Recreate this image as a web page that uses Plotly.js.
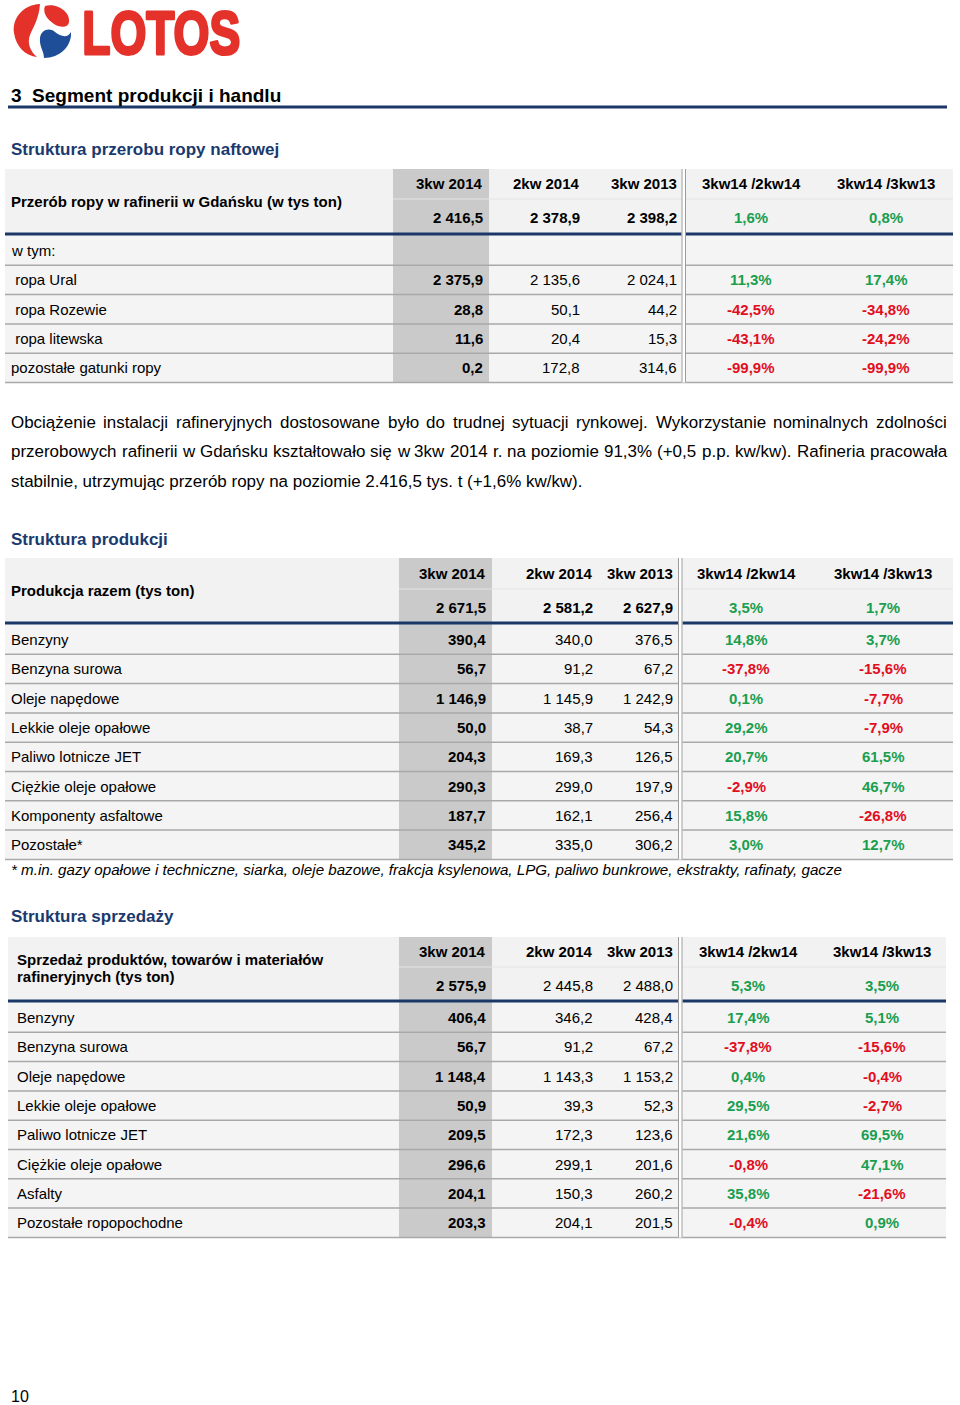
<!DOCTYPE html>
<html><head><meta charset="utf-8">
<script src="https://cdn.plot.ly/plotly-3.0.1.min.js"></script>
<style>html,body{margin:0;padding:0;background:#fff}</style>
</head><body><div id="chart" style="width:960px;height:1405px"></div>
<script>
// ---------------- DATA ----------------
const colHeaders = ['3kw 2014', '2kw 2014', '3kw 2013', '3kw14 /2kw14', '3kw14 /3kw13'];

// Table 1: Struktura przerobu ropy naftowej
const crudeTitle = 'Struktura przerobu ropy naftowej';
const crudeLabel = ['Przerób ropy w rafinerii w Gdańsku (w tys ton)'];
const crudeTotal = [2416.5, 2378.9, 2398.2, 1.6, 0.8];
const crudeRows = ['w tym:', '\u00a0ropa Ural', '\u00a0ropa Rozewie', '\u00a0ropa litewska', 'pozostałe gatunki ropy'];
const crudeQ3_2014 = [null, 2375.9, 28.8, 11.6, 0.2];
const crudeQ2_2014 = [null, 2135.6, 50.1, 20.4, 172.8];
const crudeQ3_2013 = [null, 2024.1, 44.2, 15.3, 314.6];
const crudeQoQ = [null, 11.3, -42.5, -43.1, -99.9];
const crudeYoY = [null, 17.4, -34.8, -24.2, -99.9];

// Table 2: Struktura produkcji
const prodTitle = 'Struktura produkcji';
const prodLabel = ['Produkcja razem (tys ton)'];
const prodTotal = [2671.5, 2581.2, 2627.9, 3.5, 1.7];
const prodRows = ['Benzyny', 'Benzyna surowa', 'Oleje napędowe', 'Lekkie oleje opałowe', 'Paliwo lotnicze JET', 'Ciężkie oleje opałowe', 'Komponenty asfaltowe', 'Pozostałe*'];
const prodQ3_2014 = [390.4, 56.7, 1146.9, 50.0, 204.3, 290.3, 187.7, 345.2];
const prodQ2_2014 = [340.0, 91.2, 1145.9, 38.7, 169.3, 299.0, 162.1, 335.0];
const prodQ3_2013 = [376.5, 67.2, 1242.9, 54.3, 126.5, 197.9, 256.4, 306.2];
const prodQoQ = [14.8, -37.8, 0.1, 29.2, 20.7, -2.9, 15.8, 3.0];
const prodYoY = [3.7, -15.6, -7.7, -7.9, 61.5, 46.7, -26.8, 12.7];
const prodFootnote = '* m.in. gazy opałowe i techniczne, siarka, oleje bazowe, frakcja ksylenowa, LPG, paliwo bunkrowe, ekstrakty, rafinaty, gacze';

// Table 3: Struktura sprzedaży
const salesTitle = 'Struktura sprzedaży';
const salesLabel = ['Sprzedaż produktów, towarów i materiałów', 'rafineryjnych (tys ton)'];
const salesTotal = [2575.9, 2445.8, 2488.0, 5.3, 3.5];
const salesRows = ['Benzyny', 'Benzyna surowa', 'Oleje napędowe', 'Lekkie oleje opałowe', 'Paliwo lotnicze JET', 'Ciężkie oleje opałowe', 'Asfalty', 'Pozostałe ropopochodne'];
const salesQ3_2014 = [406.4, 56.7, 1148.4, 50.9, 209.5, 296.6, 204.1, 203.3];
const salesQ2_2014 = [346.2, 91.2, 1143.3, 39.3, 172.3, 299.1, 150.3, 204.1];
const salesQ3_2013 = [428.4, 67.2, 1153.2, 52.3, 123.6, 201.6, 260.2, 201.5];
const salesQoQ = [17.4, -37.8, 0.4, 29.5, 21.6, -0.8, 35.8, -0.4];
const salesYoY = [5.1, -15.6, -0.4, -2.7, 69.5, 47.1, -21.6, 0.9];

const pageHeading = '3\u00a0\u00a0Segment produkcji i handlu';
const logoText = 'LOTOS';
const paragraphLines = [
  'Obciążenie instalacji rafineryjnych dostosowane było do trudnej sytuacji rynkowej. Wykorzystanie nominalnych zdolności',
  'przerobowych rafinerii w Gdańsku kształtowało się w 3kw 2014 r. na poziomie 91,3% (+0,5 p.p. kw/kw). Rafineria pracowała',
  'stabilnie, utrzymując przerób ropy na poziomie 2.416,5 tys. t (+1,6% kw/kw).'
];
const pageNumber = '10';

// ---------------- HELPERS ----------------
const FONT = 'Liberation Sans, Arial, sans-serif';
const NAVY = '#1b3768';
const TITLE_BLUE = '#1a3a6e';
const GREEN = '#1a9e4f';
const RED = '#e10e1e';
const LOGO_RED = '#e4322b';

function fmt(v) {
  const s = Math.abs(v).toFixed(1);
  const parts = s.split('.');
  const i = parts[0].replace(/\B(?=(\d{3})+(?!\d))/g, '\u00a0');
  return (v < 0 ? '-' : '') + i + ',' + parts[1];
}
function pct(v) { return fmt(v) + '%'; }
function pctColor(v) { return v < 0 ? RED : GREEN; }

const shapes = [];
const annotations = [];

function txt(x, y, text, opt) {
  opt = opt || {};
  annotations.push({
    x: x, y: y, xref: 'x', yref: 'y', text: text, showarrow: false,
    xanchor: opt.xanchor || 'left', yanchor: 'middle',
    borderpad: 0, borderwidth: 0,
    font: {family: opt.family || FONT, size: opt.size || 15, color: opt.color || '#000',
           weight: opt.bold ? 700 : 400, style: opt.italic ? 'italic' : 'normal'}
  });
}
function rect(x0, y0, x1, y1, fill) {
  shapes.push({type: 'rect', xref: 'x', yref: 'y', x0: x0, x1: x1, y0: y0, y1: y1,
               fillcolor: fill, line: {width: 0}, layer: 'below'});
}
function line(x0, y0, x1, y1, color, w) {
  shapes.push({type: 'line', xref: 'x', yref: 'y', x0: x0, x1: x1, y0: y0, y1: y1,
               line: {color: color, width: w}, layer: 'below'});
}

function drawTable(T, D) {
  const n = D.rows.length;
  const bottom = T.bodyTop + T.rowH * n;
  rect(T.left, T.headerTop, T.right, T.navyY, '#f2f2f2');
  rect(T.left, T.navyY, T.right, bottom, '#f4f4f4');
  rect(T.grayX0, T.headerTop, T.grayX1, bottom, '#cacaca');
  line(T.grayX0, T.dividerY, T.right, T.dividerY, '#e4e4e4', 1);
  for (let i = 0; i < n; i++) {
    const y = T.bodyTop + T.rowH * (i + 1);
    line(T.left, y, T.right, y, '#a9a9a9', 1.5);
  }
  line(T.left, T.navyY, T.right, T.navyY, NAVY, 3);
  rect(T.dl0 - 0.5, T.headerTop, T.dl1 + 0.5, bottom, '#ffffff');
  line(T.dl0, T.headerTop, T.dl0, bottom, '#9c9c9c', 1);
  line(T.dl1, T.headerTop, T.dl1, bottom, '#9c9c9c', 1);

  if (D.label.length === 1) {
    txt(T.textX, T.labelY, D.label[0], {bold: true});
  } else {
    D.label.forEach((l, k) => txt(T.textX, T.labelY + (k - 0.5) * T.labelGap, l, {bold: true}));
  }
  for (let c = 0; c < 5; c++) {
    if (c < 3) txt(T.colRight[c], T.row1Y, colHeaders[c], {bold: true, xanchor: 'right'});
    else txt(T.pctCenter[c - 3], T.row1Y, colHeaders[c], {bold: true, xanchor: 'center'});
  }
  for (let c = 0; c < 5; c++) {
    const v = D.total[c];
    if (c < 3) txt(T.colRight[c], T.row2Y, fmt(v), {bold: D.totalBold[c], xanchor: 'right'});
    else txt(T.pctCenter[c - 3], T.row2Y, pct(v), {bold: true, xanchor: 'center', color: pctColor(v)});
  }
  for (let i = 0; i < n; i++) {
    const y = T.bodyTop + T.rowH * (i + 0.5);
    txt(T.textX, y, D.rows[i]);
    const vals = [D.q3a[i], D.q2[i], D.q3b[i], D.qoq[i], D.yoy[i]];
    for (let c = 0; c < 5; c++) {
      const v = vals[c];
      if (v === null || v === undefined) continue;
      if (c < 3) txt(T.colRight[c], y, fmt(v), {bold: c === 0, xanchor: 'right'});
      else txt(T.pctCenter[c - 3], y, pct(v), {bold: true, xanchor: 'center', color: pctColor(v)});
    }
  }
}

// ---------------- PAGE ----------------
// logo symbol
shapes.push({type: 'path', xref: 'x', yref: 'y', fillcolor: LOGO_RED, line: {width: 0},
  path: 'M 40 4 C 22 5, 12 19, 14 33 C 16 47, 26 56, 37 57 C 30 51, 27 43, 30 35 C 33 27, 39 19, 40 4 Z'});
shapes.push({type: 'path', xref: 'x', yref: 'y', fillcolor: LOGO_RED, line: {width: 0},
  path: 'M 45 6 C 56 3, 70 11, 69 22 C 68 28, 60 28, 54 24 C 48 20, 42 13, 45 6 Z'});
shapes.push({type: 'path', xref: 'x', yref: 'y', fillcolor: '#1f4e98', line: {width: 0},
  path: 'M 44 58 C 60 58, 72 46, 71 32 C 68 38, 61 37, 55 32 C 49 27, 41 30, 40 38 C 39 46, 44 51, 44 58 Z'});
txt(160.5, 32, logoText, {size: 62, bold: true, color: LOGO_RED, xanchor: 'center'});

txt(11, 95, pageHeading, {size: 19, bold: true});
line(8, 107, 947, 107, NAVY, 3);

txt(11, 149, crudeTitle, {size: 17, bold: true, color: TITLE_BLUE});
drawTable({left: 5, right: 953, headerTop: 169, dividerY: 199, navyY: 234, bodyTop: 236, rowH: 29.3,
  row1Y: 183, row2Y: 217, labelY: 201, textX: 11, grayX0: 393, grayX1: 489,
  colRight: [483, 580, 677], pctCenter: [751, 886], dl0: 682, dl1: 685.5},
  {label: crudeLabel, total: crudeTotal, totalBold: [true, true, true], rows: crudeRows,
   q3a: crudeQ3_2014, q2: crudeQ2_2014, q3b: crudeQ3_2013, qoq: crudeQoQ, yoy: crudeYoY});

// paragraph (justified)
const paraSizeBase = 16;
const cv = document.createElement('canvas').getContext('2d');
function measure(s, size) { cv.font = size + 'px "Liberation Sans"'; return cv.measureText(s).width; }
const paraSize = paraSizeBase * 572 / measure(paragraphLines[2], paraSizeBase);
const paraY = [422, 451, 481];
paragraphLines.forEach((ln, k) => {
  if (k === paragraphLines.length - 1) { txt(11, paraY[k], ln, {size: paraSize}); return; }
  const words = ln.split(' ');
  const widths = words.map(w => measure(w, paraSize));
  const total = widths.reduce((a, b) => a + b, 0);
  const gap = (947 - 11 - total) / (words.length - 1);
  let x = 11;
  words.forEach((w, j) => { txt(x, paraY[k], w, {size: paraSize}); x += widths[j] + gap; });
});

txt(11, 539, prodTitle, {size: 17, bold: true, color: TITLE_BLUE});
drawTable({left: 5, right: 953, headerTop: 558, dividerY: 589, navyY: 623, bodyTop: 625, rowH: 29.3,
  row1Y: 573, row2Y: 607, labelY: 590, textX: 11, grayX0: 399, grayX1: 492,
  colRight: [486, 593, 673], pctCenter: [746, 883], dl0: 678.5, dl1: 682},
  {label: prodLabel, total: prodTotal, totalBold: [true, true, true], rows: prodRows,
   q3a: prodQ3_2014, q2: prodQ2_2014, q3b: prodQ3_2013, qoq: prodQoQ, yoy: prodYoY});
txt(11, 869, prodFootnote, {size: 15.15, italic: true});

txt(11, 916, salesTitle, {size: 17, bold: true, color: TITLE_BLUE});
drawTable({left: 8, right: 946, headerTop: 937, dividerY: 967, navyY: 1001, bodyTop: 1003, rowH: 29.3,
  row1Y: 951, row2Y: 985, labelY: 968, labelGap: 17, textX: 17, grayX0: 399, grayX1: 492,
  colRight: [486, 593, 673], pctCenter: [748, 882], dl0: 678.5, dl1: 682},
  {label: salesLabel, total: salesTotal, totalBold: [true, false, false], rows: salesRows,
   q3a: salesQ3_2014, q2: salesQ2_2014, q3b: salesQ3_2013, qoq: salesQoQ, yoy: salesYoY});

txt(11, 1396, pageNumber, {size: 16});

const layout = {
  width: 960, height: 1405, margin: {l: 0, r: 0, t: 0, b: 0},
  paper_bgcolor: '#ffffff', plot_bgcolor: '#ffffff', showlegend: false,
  xaxis: {range: [0, 960], visible: false, fixedrange: true},
  yaxis: {range: [1405, 0], visible: false, fixedrange: true},
  shapes: shapes, annotations: annotations
};
Plotly.newPlot('chart', [], layout, {staticPlot: true}).then(() => {
  // heavy, condensed wordmark
  const t = Array.from(document.querySelectorAll('.annotation-text')).find(e => e.textContent === logoText);
  if (t) {
    t.setAttribute('textLength', '158');
    t.setAttribute('lengthAdjust', 'spacingAndGlyphs');
    t.style.stroke = LOGO_RED;
    t.style.strokeWidth = '3px';
    t.style.strokeLinejoin = 'round';
  }
});
</script>
</body></html>
